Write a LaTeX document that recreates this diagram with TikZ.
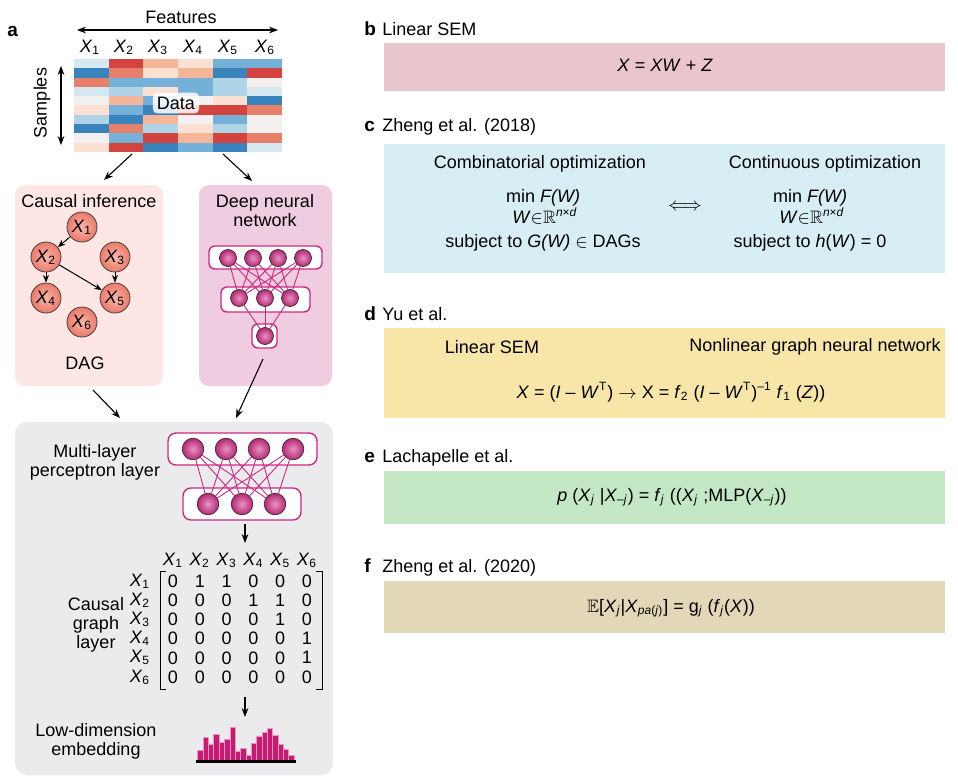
\documentclass[tikz,border=0pt]{standalone}
\usepackage{fontspec}
\setmainfont{Liberation Sans}
\usepackage{amssymb}
\usepackage{tikz}
\usetikzlibrary{arrows.meta}
\definecolor{HeatB3}{HTML}{3A84BE}
\definecolor{HeatB2}{HTML}{74B0D7}
\definecolor{HeatB1}{HTML}{AFD3E7}
\definecolor{HeatB0}{HTML}{D5E7F1}
\definecolor{HeatW}{HTML}{F4F0EF}
\definecolor{HeatR0}{HTML}{FBE1D4}
\definecolor{HeatR1}{HTML}{F5B598}
\definecolor{HeatR2}{HTML}{E6806A}
\definecolor{HeatR3}{HTML}{D2443D}
\definecolor{CausalBg}{HTML}{FDE6E4}
\definecolor{DnnBg}{HTML}{F0CCE0}
\definecolor{PanelGray}{HTML}{EBEBED}
\definecolor{DagSalmon}{HTML}{EC7A68}
\definecolor{NeuroPink}{HTML}{CC2A82}
\definecolor{BarPink}{HTML}{C81A73}
\definecolor{SemPink}{HTML}{E8C6CB}
\definecolor{OptBlue}{HTML}{D8EEF5}
\definecolor{YuYellow}{HTML}{F8E6A9}
\definecolor{LachGreen}{HTML}{C4E8C3}
\definecolor{ZhengTan}{HTML}{E2D7B7}
\newcommand{\xv}[1]{\textit{X}\textsubscript{#1}}

\begin{document}
\begin{tikzpicture}[x=0.5pt, y=-0.5pt, font=\fontsize{9}{9.5}\selectfont,
  arr/.style={-{Stealth[length=4.5pt, width=3.4pt]}, line width=0.55pt},
  arrboth/.style={{Stealth[length=4.5pt, width=3.4pt]}-{Stealth[length=4.5pt, width=3.4pt]}, line width=0.55pt},
  dagnode/.style={circle, draw=black!75, line width=0.4pt, inner sep=0pt, minimum size=15pt,
    shading=radial, inner color=DagSalmon!55!white, outer color=DagSalmon},
  neuron/.style={circle, draw=black!80, line width=0.35pt, inner sep=0pt,
    shading=radial, inner color=NeuroPink!50!white, outer color=NeuroPink!90!black},
  layerbox/.style={draw=NeuroPink, fill=white, line width=0.7pt, rounded corners=3pt, inner sep=0pt},
  wire/.style={NeuroPink, line width=0.45pt},
  panelltr/.style={font=\fontsize{9.5}{10}\selectfont\bfseries, anchor=west, inner sep=0pt,
    text height=6.5pt, text depth=1.8pt},
  headtxt/.style={anchor=west, inner sep=0pt, text height=6.5pt, text depth=1.8pt}]
  \useasboundingbox (0,0) rectangle (958,781);

  % ---- panel a: data ----
  \node[panelltr] (la) at (7,32) {a};
  \node (feat) at (181,17) {Features};
  \coordinate (featL) at (77,30);
  \coordinate (featR) at (278,30);
  \draw[arrboth] (featL) -- (featR);
  \foreach \x [count=\i] in {90,124,158,193,228,265}{
    \node (hx\i) at (\x,47) {\xv{\i}};
  }
  \node[rotate=90] (smp) at (42,103) {Samples};
  \coordinate (smpT) at (61,66);
  \coordinate (smpB) at (61,145);
  \draw[arrboth] (smpT) -- (smpB);
  % heat map, one column per feature
  \foreach \c/\cols in {
    1/{HeatB0,HeatB3,HeatR2,HeatB0,HeatW,HeatR0,HeatB1,HeatB3,HeatW,HeatR0},
    2/{HeatR3,HeatR2,HeatB2,HeatB1,HeatR1,HeatB2,HeatB3,HeatR2,HeatB2,HeatR3},
    3/{HeatR1,HeatR0,HeatB2,HeatR0,HeatB2,HeatB3,HeatR1,HeatB1,HeatR3,HeatB3},
    4/{HeatR0,HeatR1,HeatB2,HeatB2,HeatW,HeatR3,HeatW,HeatR0,HeatR1,HeatB2},
    5/{HeatB2,HeatB3,HeatB1,HeatB1,HeatR0,HeatR3,HeatB2,HeatB1,HeatR3,HeatB3},
    6/{HeatB2,HeatR3,HeatW,HeatB0,HeatB3,HeatR2,HeatW,HeatW,HeatR2,HeatB0}}{
    \foreach \clr [count=\r] in \cols {
      \fill[\clr] ({74+(\c-1)*34.67}, {59+(\r-1)*9.3}) rectangle ++(34.9, 9.5);
    }
  }
  \node[fill=white, fill opacity=0.85, text opacity=1, rounded corners=2pt, inner sep=2pt]
    (data) at (176,103) {Data};

  % causal inference and deep network boxes
  \node[fill=CausalBg, rounded corners=5pt, minimum width=74pt, minimum height=100.5pt]
    (causal) at (89,285.5) {};
  \node[fill=DnnBg, rounded corners=5pt, minimum width=66.5pt, minimum height=100.5pt]
    (dnn) at (265.5,285.5) {};
  \coordinate (heatL) at (132,154);
  \coordinate (heatR) at (223,154);
  \coordinate (causalIn) at (104,180);
  \coordinate (dnnIn) at (252,181);
  \draw[arr] (heatL) -- (causalIn);
  \draw[arr] (heatR) -- (dnnIn);

  \node (causalTxt) at (89,201) {Causal inference};
  \node[align=center] (dnnTxt) at (265,211) {Deep neural\\network};
  \node (dag) at (85,363) {DAG};
  \foreach \i/\x/\y in {1/82/227, 2/46/257, 3/115/257, 4/46/298, 5/115/298, 6/82/322}{
    \node[dagnode] (d\i) at (\x,\y) {\xv{\i}};
  }
  \foreach \a/\b in {1/2, 2/4, 3/5, 2/5}{
    \draw[-{Stealth[length=3.8pt, width=3pt]}, line width=0.5pt] (d\a) -- (d\b);
  }

  % small network
  \node[layerbox, minimum width=56.5pt, minimum height=11.5pt] (nTopBox) at (265.5,257.5) {};
  \node[layerbox, minimum width=44.5pt, minimum height=12.5pt] (nMidBox) at (265.5,299.5) {};
  \node[layerbox, minimum width=12.5pt, minimum height=12pt] (nLowBox) at (264.5,336) {};
  \foreach \x [count=\i] in {228,253,278,303}{
    \node[neuron, minimum size=8.5pt] (nt\i) at (\x,258) {};
  }
  \foreach \x [count=\i] in {239,265,290}{
    \node[neuron, minimum size=8.5pt] (nm\i) at (\x,298) {};
  }
  \node[neuron, minimum size=8.5pt] (nb1) at (265,336) {};
  \foreach \i in {1,...,4}{
    \foreach \j in {1,2,3}{
      \draw[wire] (nt\i) -- (nm\j);
    }
  }
  \foreach \j in {1,2,3}{
    \draw[wire] (nm\j) -- (nb1);
  }

  % ---- grey panel: MLP, causal graph layer, embedding ----
  \node[fill=PanelGray, rounded corners=6pt, minimum width=159pt, minimum height=176.5pt]
    (panel) at (174,598.5) {};
  \coordinate (causalOut) at (93,390);
  \coordinate (panelInL) at (120,418);
  \coordinate (dnnOut) at (263,359);
  \coordinate (panelInR) at (236,418);
  \draw[arr] (causalOut) -- (panelInL);
  \draw[arr] (dnnOut) -- (panelInR);

  \node[align=center] (mlpTxt) at (95,462) {Multi-layer\\perceptron layer};
  \node[layerbox, rounded corners=4pt, minimum width=74.5pt, minimum height=16pt] (mTopBox) at (242.5,449) {};
  \node[layerbox, rounded corners=4pt, minimum width=59pt, minimum height=16pt] (mLowBox) at (242,504) {};
  \foreach \x [count=\i] in {193,226,259,293}{
    \node[neuron, minimum size=10.8pt] (mt\i) at (\x,449) {};
  }
  \foreach \x [count=\i] in {208,242,275}{
    \node[neuron, minimum size=10.8pt] (mb\i) at (\x,504) {};
  }
  \foreach \i in {1,...,4}{
    \foreach \j in {1,2,3}{
      \draw[wire] (mt\i) -- (mb\j);
    }
  }
  \coordinate (mlpOut) at (245,524);
  \coordinate (matIn) at (245,543);
  \draw[arr] (mlpOut) -- (matIn);

  % adjacency matrix
  \node[align=center] (cglTxt) at (96,625) {Causal\\graph\\layer};
  \foreach \i in {1,...,6}{
    \node (mc\i) at ({173+(\i-1)*26.8},560) {\xv{\i}};
    \node (mr\i) at (140,{581+(\i-1)*19.2}) {\xv{\i}};
  }
  \foreach \row [count=\r] in {{0,1,1,0,0,0},{0,0,0,1,1,0},{0,0,0,0,1,0},
                               {0,0,0,0,0,1},{0,0,0,0,0,1},{0,0,0,0,0,0}}{
    \foreach \v [count=\c] in \row {
      \node (m\r\c) at ({173+(\c-1)*26.8},{581+(\r-1)*19.2}) {\v};
    }
  }
  \draw[line width=0.5pt] (166,571) -- (160,571) -- (160,689) -- (166,689);
  \draw[line width=0.5pt] (316,571) -- (322,571) -- (322,689) -- (316,689);
  \coordinate (matOut) at (245,697);
  \coordinate (embIn) at (245,717);
  \draw[arr] (matOut) -- (embIn);

  % embedding histogram
  \node[align=center] (embTxt) at (96,741) {Low-dimension\\embedding};
  \foreach \h [count=\i] in {11,24,16.3,26.7,19,22,33.3,9.7,13,6,17.7,24.7,29,32.3,25.3,17,11.7,6}{
    \fill[BarPink, draw=BarPink!45, line width=0.3pt] ({197.7+(\i-1)*5.35},761) rectangle ++(5.35,-\h);
  }
  \draw[line width=1.5pt] (196,761) -- (296,761);

  % ---- panels b-f ----
  \fill[SemPink] (384,43) rectangle (945,91);
  \fill[OptBlue] (384,144) rectangle (945,273);
  \fill[YuYellow] (384,328) rectangle (945,418);
  \fill[LachGreen] (384,471) rectangle (945,524);
  \fill[ZhengTan] (384,581) rectangle (945,633);
  \foreach \ltr/\txt/\y in {b/Linear SEM/31, c/Zheng et al. (2018)/127, d/Yu et al./316,
                           e/Lachapelle et al./458, f/Zheng et al. (2020)/568}{
    \node[panelltr] (l\ltr) at (364,\y) {\ltr};
    \node[headtxt] (h\ltr) at (382,\y) {\txt};
  }
  % b
  \node (eqb) at (665,65) {\textit{X} = \textit{XW} + \textit{Z}};
  % c
  \node (combTxt) at (540,164) {Combinatorial optimization};
  \node (combMin) at (543,198) {min \textit{F(W)}};
  \node (combW) at (545,216) {\textit{W}$\in$$\mathbb{R}$\textsuperscript{\textit{n}×\textit{d}}};
  \node (combSub) at (543,243) {subject to \textit{G(W)} $\in$ DAGs};
  \node (equiv) at (685,207) {$\Longleftrightarrow$};
  \node (contTxt) at (825,164) {Continuous optimization};
  \node (contMin) at (810,198) {min \textit{F(W)}};
  \node (contW) at (812,216) {\textit{W}$\in$$\mathbb{R}$\textsuperscript{\textit{n}×\textit{d}}};
  \node (contSub) at (810,243) {subject to \textit{h}(\textit{W}) = 0};
  % d
  \node (yuLin) at (492,347) {Linear SEM};
  \node (yuNon) at (815,347) {Nonlinear graph neural network};
  \node (eqd) at (671,392) {\textit{X} = (\textit{I} -- \textit{W}\textsuperscript{T}) $\rightarrow$ X =
    \textit{f}\textsubscript{2} (\textit{I} -- \textit{W}\textsuperscript{T})\textsuperscript{--1}
    \textit{f}\textsubscript{1} (\textit{Z}))};
  % e
  \node (eqe) at (672,497) {\textit{p} (\textit{X}\textsubscript{\textit{j}} |\textit{X}\textsubscript{--\textit{j}})
    = \textit{f}\textsubscript{\textit{j}} ((\textit{X}\textsubscript{\textit{j}} ;MLP(\textit{X}\textsubscript{--\textit{j}}))};
  % f
  \node (eqf) at (671,608) {$\mathbb{E}$[\textit{X}\textsubscript{\textit{j}}|\textit{X}\textsubscript{\textit{pa}(\textit{j})}]
    = g\textsubscript{\textit{j}} (\textit{f}\textsubscript{\textit{j}}(\textit{X}))};
\end{tikzpicture}
\end{document}
